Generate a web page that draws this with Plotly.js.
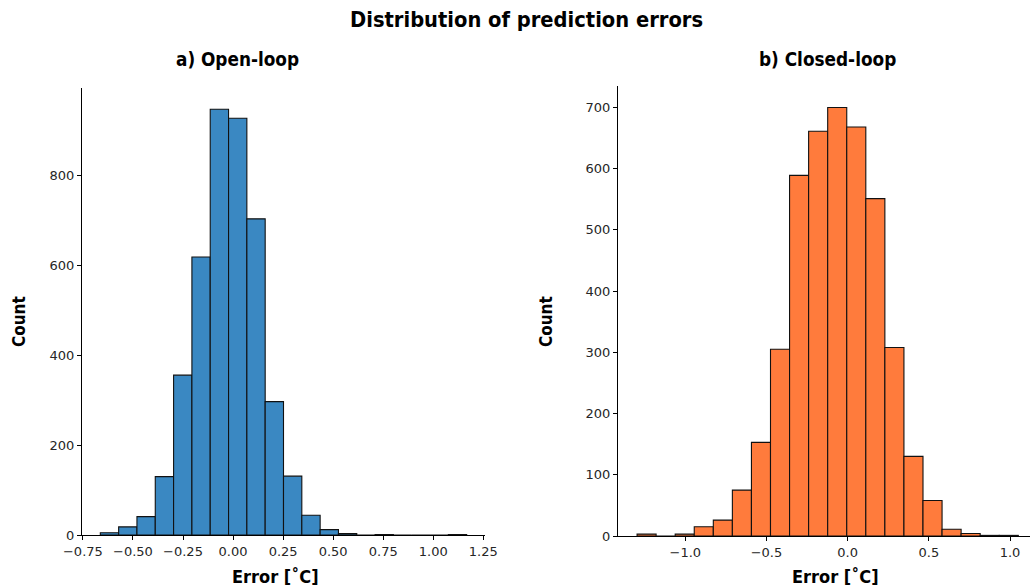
<!DOCTYPE html>
<html><head><meta charset="utf-8">
<script src="https://cdn.plot.ly/plotly-3.0.1.min.js"></script>
<style>body{margin:0;background:#fff}#c{width:1030px;height:587px}</style>
</head><body><div id="c"></div>
<script>
// Open-loop histogram: 20 bins
const openStart = -0.663;
const openWidth = 0.0915;
const openCounts = [5, 18, 41, 130, 356, 619, 948, 928, 704, 297, 131, 44, 12, 3, 0, 1, 0, 0, 0, 1];
// Closed-loop histogram: 20 bins
const closedStart = -1.297;
const closedWidth = 0.1174;
const closedCounts = [3, 0, 3, 15, 26, 75, 153, 305, 589, 661, 700, 668, 551, 308, 130, 58, 11, 4, 1, 1];

const openTicks = [-0.75, -0.5, -0.25, 0, 0.25, 0.5, 0.75, 1.0, 1.25];
const closedTicks = [-1.0, -0.5, 0, 0.5, 1.0];
const openYTicks = [0, 200, 400, 600, 800];
const closedYTicks = [0, 100, 200, 300, 400, 500, 600, 700];

const centers = (s, w, n) => Array.from({length: n}, (_, i) => s + w * (i + 0.5));
const fmtTick = (v, d) => (v < 0 ? '\u2212' : '') + Math.abs(v).toFixed(d);

const W = 1030, H = 587;
const px = x => x / W, py = y => 1 - y / H;

const traces = [
  {type: 'bar', x: centers(openStart, openWidth, openCounts.length), y: openCounts, width: openWidth,
   marker: {color: '#3a88c2', line: {color: '#111', width: 1.1}}, xaxis: 'x', yaxis: 'y', hoverinfo: 'x+y'},
  {type: 'bar', x: centers(closedStart, closedWidth, closedCounts.length), y: closedCounts, width: closedWidth,
   marker: {color: '#ff7b3c', line: {color: '#111', width: 1.1}}, xaxis: 'x2', yaxis: 'y2', hoverinfo: 'x+y'}
];

const FONT = "'DejaVu Sans Condensed', 'DejaVu Sans', sans-serif";
const tickFont = {family: "'DejaVu Sans', sans-serif", size: 13, color: '#262626'};
const axCommon = {showgrid: false, zeroline: false, showline: true, linecolor: '#000', linewidth: 1,
  ticks: 'outside', ticklen: 4, tickwidth: 1, tickcolor: '#000', tickfont: tickFont, mirror: false};

const openMax = Math.max(...openCounts), closedMax = Math.max(...closedCounts);
const openLo = openStart - openWidth, openHi = openStart + openWidth * (openCounts.length + 1);
const closedLo = closedStart - closedWidth;

const ann = (text, x, y, size, angle) => ({text: '<b>' + text + '</b>', x: px(x), y: py(y), xref: 'paper', yref: 'paper',
  showarrow: false, textangle: angle || 0, font: {family: FONT, size: size, color: '#000'}, xanchor: 'center', yanchor: 'middle'});

const layout = {
  width: W, height: H, margin: {l: 0, r: 0, t: 0, b: 0}, showlegend: false,
  paper_bgcolor: '#fff', plot_bgcolor: '#fff', bargap: 0,
  xaxis: Object.assign({}, axCommon, {domain: [px(82), px(485)], range: [openLo, openHi], anchor: 'y',
    tickvals: openTicks, ticktext: openTicks.map(v => fmtTick(v, 2))}),
  yaxis: Object.assign({}, axCommon, {domain: [py(535), py(88)], range: [0, openMax * 1.05], anchor: 'x',
    tickvals: openYTicks, ticktext: openYTicks.map(String)}),
  xaxis2: Object.assign({}, axCommon, {domain: [px(618), 1], range: [closedLo, 1.123], anchor: 'y2',
    tickvals: closedTicks, ticktext: closedTicks.map(v => fmtTick(v, 1))}),
  yaxis2: Object.assign({}, axCommon, {domain: [py(536), py(86)], range: [0, closedMax * 1.05], anchor: 'x2',
    tickvals: closedYTicks, ticktext: closedYTicks.map(String)}),
  annotations: [
    ann('Distribution of prediction errors', 526, 19, 21.7),
    ann('a) Open-loop', 237, 60, 18.8),
    ann('b) Closed-loop', 827, 60, 18.8),
    ann('Count', 19, 322, 17, -90),
    ann('Count', 546, 322, 17, -90),
    ann('Error [\u02DAC]', 275, 576, 18),
    ann('Error [\u02DAC]', 835, 576, 18)
  ]
};
Plotly.newPlot('c', traces, layout, {displayModeBar: false, staticPlot: true});
</script></body></html>
